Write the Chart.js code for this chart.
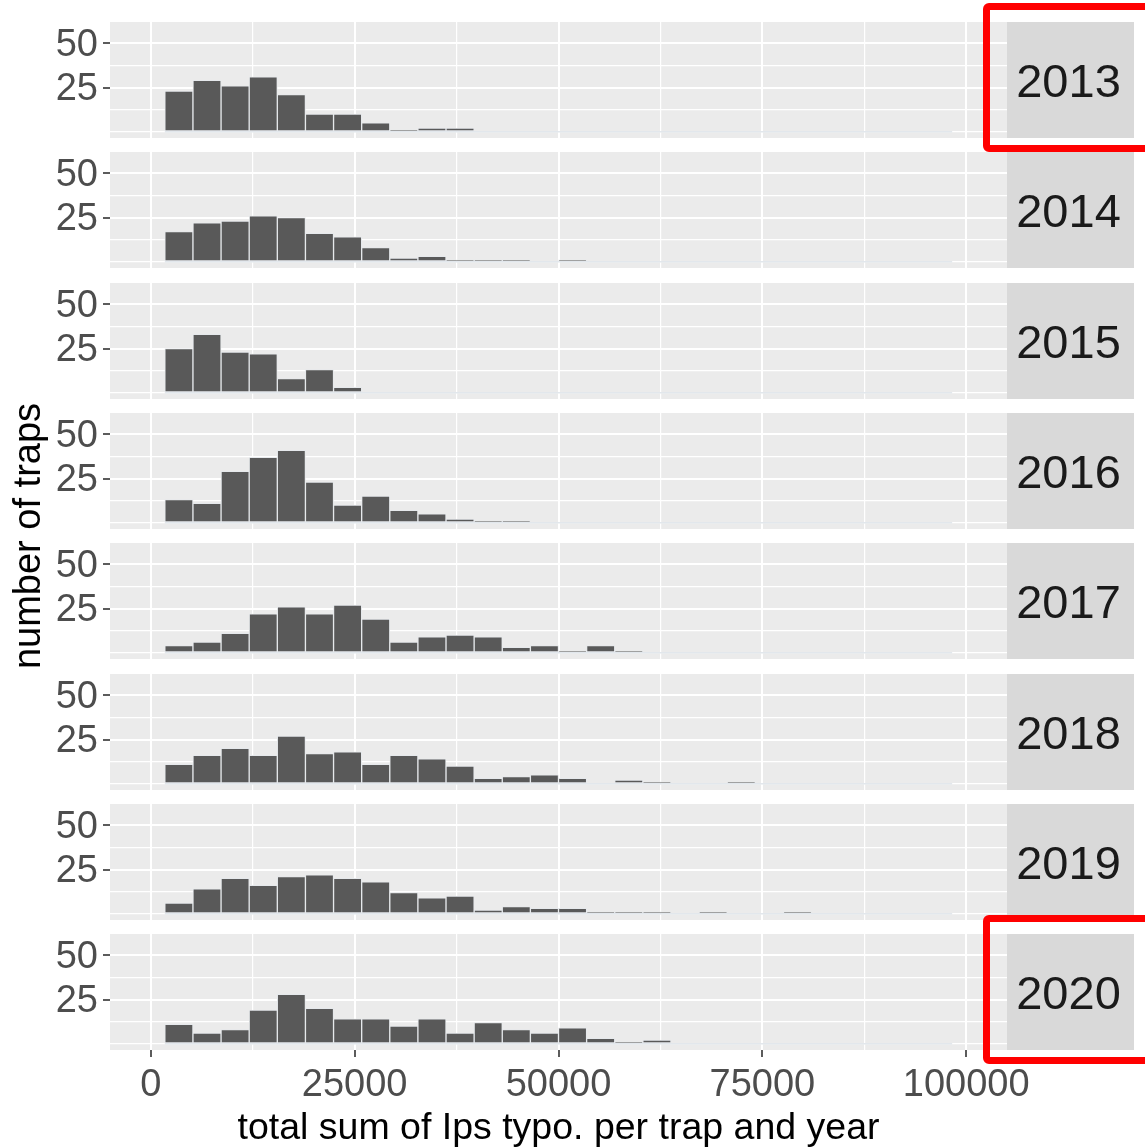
<!DOCTYPE html>
<html>
<head>
<meta charset="utf-8">
<script src="https://cdn.jsdelivr.net/npm/chart.js@4.4.1/dist/chart.umd.min.js"></script>
<style>
  html, body { margin: 0; padding: 0; background: #ffffff; }
  #wrap { position: relative; width: 1145px; height: 1148px; overflow: hidden;
          font-family: "Liberation Sans", Arial, sans-serif; }
  #wrap canvas { position: absolute; left: 0; }
  #ytitle { position: absolute; width: 500px; height: 46px; line-height: 46px;
            text-align: center; font-size: 38px; color: #000;
            transform: rotate(-90deg); transform-origin: 50% 50%; white-space: nowrap; }
  .hl { position: absolute; border: 7.5px solid #ff0000; border-radius: 6px;
        box-sizing: border-box; pointer-events: none; }
</style>
</head>
<body>
<div id="wrap"></div>
<script>
// ---- data -------------------------------------------------------------
// Facet labels (one histogram per year)
const years = ['2013', '2014', '2015', '2016', '2017', '2018', '2019', '2020'];
const highlightedYears = ['2013', '2020'];

// Histogram bins: 30 bins over 0..100000, bins 1..28 drawn
const BIN_WIDTH = 100000 / 29;

// Number of traps per bin (bins 1..28)
const counts2013 = [23, 29, 26, 31, 21, 10, 10, 5, 1, 2, 2, 0, 0, 0, 0, 0, 0, 0, 0, 0, 0, 0, 0, 0, 0, 0, 0, 0];
const counts2014 = [17, 22, 23, 26, 25, 16, 14, 8, 2, 3, 1, 1, 1, 0, 1, 0, 0, 0, 0, 0, 0, 0, 0, 0, 0, 0, 0, 0];
const counts2015 = [25, 33, 23, 22, 8, 13, 3, 0, 0, 0, 0, 0, 0, 0, 0, 0, 0, 0, 0, 0, 0, 0, 0, 0, 0, 0, 0, 0];
const counts2016 = [13, 11, 29, 37, 41, 23, 10, 15, 7, 5, 2, 1, 1, 0, 0, 0, 0, 0, 0, 0, 0, 0, 0, 0, 0, 0, 0, 0];
const counts2017 = [4, 6, 11, 22, 26, 22, 27, 19, 6, 9, 10, 9, 3, 4, 1, 4, 1, 0, 0, 0, 0, 0, 0, 0, 0, 0, 0, 0];
const counts2018 = [11, 16, 20, 16, 27, 17, 18, 11, 16, 14, 10, 3, 4, 5, 3, 0, 2, 1, 0, 0, 1, 0, 0, 0, 0, 0, 0, 0];
const counts2019 = [6, 14, 20, 16, 21, 22, 20, 18, 12, 9, 10, 2, 4, 3, 3, 1, 1, 1, 0, 1, 0, 0, 1, 0, 0, 0, 0, 0];
const counts2020 = [11, 6, 8, 19, 28, 20, 14, 14, 10, 14, 6, 12, 8, 6, 9, 3, 1, 2, 0, 0, 0, 0, 0, 0, 0, 0, 0, 0];
const countsByYear = [counts2013, counts2014, counts2015, counts2016, counts2017, counts2018, counts2019, counts2020];

// Axis breaks
const xMajor = [0, 25000, 50000, 75000, 100000];
const xMinor = [12500, 37500, 62500, 87500];
const yMajor = [25, 50];
const yMinor = [0, 12.5, 37.5];

const xTitle = 'total sum of Ips typo. per trap and year';
const yTitle = 'number of traps';

// ---- layout -----------------------------------------------------------
const W = 1145, H = 1148;
const FONT = '"Liberation Sans", Arial, sans-serif';
const PANEL_TOP = 22, PANEL_PITCH = 130.3, PANEL_H = 116;
const PANEL_LEFT = 110, PANEL_RIGHT = 1007, STRIP_W = 127;

const wrap = document.getElementById('wrap');

// grey panel background
const panelBg = {
  id: 'panelBg',
  beforeDraw(chart) {
    const a = chart.chartArea, ctx = chart.ctx;
    ctx.save();
    ctx.fillStyle = '#EBEBEB';
    ctx.fillRect(a.left, a.top, a.right - a.left, a.bottom - a.top);
    ctx.restore();
  }
};

// outline of empty bins along the zero line
const zeroOutline = {
  id: 'zeroOutline',
  beforeDatasetsDraw(chart) {
    const bars = chart.getDatasetMeta(0).data;
    if (!bars.length) return;
    const first = bars[0], last = bars[bars.length - 1];
    const y0 = chart.scales.y.getPixelForValue(0);
    const ctx = chart.ctx;
    ctx.save();
    ctx.strokeStyle = '#e2e7ec';
    ctx.lineWidth = 1.5;
    ctx.beginPath();
    ctx.moveTo(first.x - first.width / 2, y0);
    ctx.lineTo(last.x + last.width / 2, y0);
    ctx.stroke();
    ctx.restore();
  }
};

// facet strip on the right of each panel
const strip = {
  id: 'strip',
  afterDraw(chart, args, opts) {
    const a = chart.chartArea, ctx = chart.ctx;
    ctx.save();
    ctx.fillStyle = '#D9D9D9';
    ctx.fillRect(a.right, a.top, STRIP_W, a.bottom - a.top);
    ctx.fillStyle = '#1A1A1A';
    ctx.font = '47px ' + FONT;
    ctx.textAlign = 'center';
    ctx.textBaseline = 'middle';
    ctx.fillText(opts.label, a.right + STRIP_W / 2 - 2, (a.top + a.bottom) / 2 + 4);
    ctx.restore();
  }
};

function zeroPadding(scale) {
  scale.paddingTop = 0; scale.paddingBottom = 0;
  scale.paddingLeft = 0; scale.paddingRight = 0;
}

function makePanel(i) {
  const last = i === years.length - 1;
  const top = Math.round(PANEL_TOP + i * PANEL_PITCH);
  const axisH = last ? H - top - PANEL_H : 0;

  const canvas = document.createElement('canvas');
  canvas.width = W;
  canvas.height = PANEL_H + axisH;
  canvas.style.top = top + 'px';
  wrap.appendChild(canvas);

  const points = countsByYear[i].map((c, k) => ({ x: (k + 1) * BIN_WIDTH, y: c }));

  new Chart(canvas, {
    type: 'bar',
    data: {
      datasets: [{
        data: points,
        backgroundColor: '#595959',
        borderColor: '#e6e9ec',
        borderWidth: 1,
        borderSkipped: false,
        barPercentage: 1,
        categoryPercentage: 1
      }]
    },
    options: {
      responsive: false,
      animation: false,
      devicePixelRatio: 1,
      events: [],
      layout: { padding: { left: 0, top: 0, bottom: 0, right: W - PANEL_RIGHT } },
      plugins: {
        legend: { display: false },
        tooltip: { enabled: false },
        strip: { label: years[i] }
      },
      scales: {
        x: {
          type: 'linear',
          min: -5000,
          max: 105000,
          offset: false,
          border: { display: false },
          grid: {
            offset: false,
            color: '#FFFFFF',
            lineWidth: ctx => xMajor.includes(ctx.tick && ctx.tick.value) ? 2 : 1.2,
            drawTicks: last,
            tickLength: 7,
            tickWidth: 1.6,
            tickColor: ctx => xMajor.includes(ctx.tick && ctx.tick.value) ? '#333333' : 'rgba(0,0,0,0)'
          },
          ticks: {
            display: last,
            autoSkip: false,
            maxRotation: 0,
            minRotation: 0,
            padding: 6,
            color: '#4D4D4D',
            font: { family: FONT, size: 38 },
            callback: v => xMajor.includes(v) ? String(v) : ''
          },
          title: {
            display: last,
            text: xTitle,
            color: '#000000',
            font: { family: FONT, size: 37.5 },
            padding: { top: 0, bottom: -3 }
          },
          afterBuildTicks: s => {
            s.ticks = xMajor.concat(xMinor).sort((a, b) => a - b).map(v => ({ value: v }));
          },
          afterFit: s => { s.height = axisH; zeroPadding(s); }
        },
        y: {
          min: -3.6,
          max: 62.1,
          border: { display: false },
          grid: {
            color: '#FFFFFF',
            lineWidth: ctx => yMajor.includes(ctx.tick && ctx.tick.value) ? 2 : 1.2,
            tickLength: 7,
            tickWidth: 1.6,
            tickColor: ctx => yMajor.includes(ctx.tick && ctx.tick.value) ? '#333333' : 'rgba(0,0,0,0)'
          },
          ticks: {
            autoSkip: false,
            padding: 5,
            labelOffset: 2,
            color: '#4D4D4D',
            font: { family: FONT, size: 38 },
            callback: v => yMajor.includes(v) ? String(v) : ''
          },
          afterBuildTicks: s => {
            s.ticks = yMinor.concat(yMajor).sort((a, b) => a - b).map(v => ({ value: v }));
          },
          afterFit: s => { s.width = PANEL_LEFT; zeroPadding(s); }
        }
      }
    },
    plugins: [panelBg, zeroOutline, strip]
  });

  return top;
}

const panelTops = years.map((y, i) => makePanel(i));

// y-axis title, centred on the stack of panels
const yt = document.createElement('div');
yt.id = 'ytitle';
yt.textContent = yTitle;
const midY = (panelTops[0] + panelTops[panelTops.length - 1] + PANEL_H) / 2;
yt.style.left = (27 - 250) + 'px';
yt.style.top = (midY - 23) + 'px';
wrap.appendChild(yt);

// red frames around the highlighted facets
highlightedYears.forEach(y => {
  const i = years.indexOf(y);
  const t = panelTops[i];
  const box = document.createElement('div');
  box.className = 'hl';
  box.style.left = '983px';
  box.style.top = (t - 19) + 'px';
  box.style.width = '200px';
  box.style.height = (PANEL_H + 33) + 'px';
  wrap.appendChild(box);
});
</script>
</body>
</html>
